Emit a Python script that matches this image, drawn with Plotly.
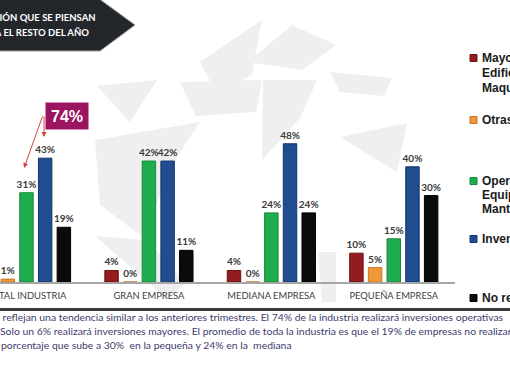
import plotly.graph_objects as go

# ---------------- data ----------------
categories = ["TOTAL INDUSTRIA", "GRAN EMPRESA", "MEDIANA EMPRESA", "PEQUEÑA EMPRESA"]
series_names = ["Mayores", "Otras", "Operativas", "Inventarios", "No realizará"]
mayores = [6, 4, 4, 10]
otras = [1, 0, 0, 5]
operativas = [31, 42, 24, 15]
inventarios = [43, 42, 48, 40]
no_realizara = [19, 11, 24, 30]
series_values = [mayores, otras, operativas, inventarios, no_realizara]
series_colors = ["#921c1f", "#f0993a", "#1fae4e", "#1f4d8f", "#0b0b0b"]
series_lines = ["#6e1012", "#c9772a", "#17873b", "#13366a", "#000000"]

legend_texts = [
    ["Mayores:", "Edificios y", "Maquinaria"],
    ["Otras"],
    ["Operativas:", "Equipos y", "Mantenimiento"],
    ["Inventarios"],
    ["No realizará"],
]
header_lines = ["INVERSIÓN QUE SE PIENSAN", "REALIZAR PARA EL RESTO DEL AÑO"]
highlight_text = "74%"
body_lines = [
    "Los resultados reflejan una tendencia similar a los anteriores trimestres. El 74% de la industria realizará inversiones operativas",
    "Solo un 6% realizará inversiones mayores. El promedio de toda la industria es que el 19% de empresas no realizará inversiones,",
    "porcentaje que sube a 30%  en la pequeña y 24% en la  mediana",
]

W, H = 510, 382


def px(x):
    return x / W


def py(y):
    return 1 - y / H


FONT = "Lato, Liberation Sans, Arial, sans-serif"
SANS = "Liberation Sans, Arial, sans-serif"

fig = go.Figure()
for name, vals, col, lc in zip(series_names, series_values, series_colors, series_lines):
    fig.add_trace(go.Bar(
        x=categories, y=vals, name=name,
        marker=dict(color=col, line=dict(color=lc, width=1)),
        text=[f"{v}%" for v in vals], textposition="outside", constraintext="none",
        textfont=dict(family=FONT, size=10, color="#3a3a3a", weight="bold"),
        cliponaxis=False, showlegend=False, hoverinfo="skip",
    ))

shapes = []
# light watermark blades
blades = [
    [(97, 86), (157, 80), (130, 122)],
    [(180, 82), (262, 80), (256, 112), (196, 116)],
    [(200, 62), (262, 20), (252, 74), (218, 96)],
    [(248, 62), (292, 25), (336, 45), (302, 70)],
    [(330, 72), (392, 78), (384, 96), (340, 92)],
    [(340, 137), (407, 123), (397, 172)],
    [(95, 140), (200, 122), (175, 160), (143, 237), (100, 205)],
    [(263, 80), (317, 80), (300, 118), (262, 160)],
    [(95, 236), (146, 240), (186, 282), (168, 300)],
    [(318, 252), (336, 252), (336, 302), (322, 302)],
]
for b in blades:
    path = "M " + " L ".join(f"{px(x):.4f},{py(y):.4f}" for x, y in b) + " Z"
    shapes.append(dict(type="path", xref="paper", yref="paper", path=path,
                       fillcolor="#efefef", line=dict(width=0), layer="below"))

# header arrow box
hdr = [(-2, -2), (98, -2), (135, 25), (100, 51), (-2, 51)]
shapes.append(dict(type="path", xref="paper", yref="paper",
                   path="M " + " L ".join(f"{px(x):.4f},{py(y):.4f}" for x, y in hdr) + " Z",
                   fillcolor="#23272c", line=dict(color="#9a9a9a", width=1)))
# bottom separator
shapes.append(dict(type="line", xref="paper", yref="paper", x0=0, x1=1,
                   y0=py(309.5), y1=py(309.5), line=dict(color="#3a3a3a", width=3)))

annotations = []
annotations.append(dict(x=px(98), y=py(18), xref="paper", yref="paper", xanchor="right",
                        yanchor="middle", showarrow=False, text=header_lines[0],
                        font=dict(family=FONT, size=9.5, color="white", weight="bold")))
annotations.append(dict(x=px(91), y=py(33), xref="paper", yref="paper", xanchor="right",
                        yanchor="middle", showarrow=False, text=header_lines[1],
                        font=dict(family=FONT, size=9.5, color="white", weight="bold")))

# legend (custom)
leg_rows = [[58, 73, 88], [120], [181, 195, 209], [239], [298]]
for lines, rows, col, lc in zip(legend_texts, leg_rows, series_colors, series_lines):
    shapes.append(dict(type="rect", xref="paper", yref="paper",
                       x0=px(470), x1=px(477), y0=py(rows[0] + 3.5), y1=py(rows[0] - 3.5),
                       fillcolor=col, line=dict(color=lc, width=1)))
    for t, yy in zip(lines, rows):
        annotations.append(dict(x=px(479.5), y=py(yy), xref="paper", yref="paper",
                                xanchor="left", yanchor="middle", showarrow=False, text=t,
                                font=dict(family=SANS, size=12, color="#1a1a1a", weight="bold")))

# highlight box and arrows
annotations.append(dict(x=px(45), y=py(102), xref="paper", yref="paper", showarrow=False,
                        text=f"<b>{highlight_text}</b>", bgcolor="#9c1560",
                        width=38, height=22, borderpad=2,
                        font=dict(family=SANS, size=16, color="white")))
annotations.append(dict(x=px(24), y=py(168), xref="paper", yref="paper", text="",
                        showarrow=True, ax=19, ay=-53, arrowhead=2, arrowsize=1,
                        arrowwidth=1, arrowcolor="#d2453f"))
annotations.append(dict(x=px(44), y=py(137), xref="paper", yref="paper", text="",
                        showarrow=True, ax=0, ay=-22, arrowhead=2, arrowsize=1,
                        arrowwidth=1, arrowcolor="#d2453f"))

# body text
body_x = [-67, -2, -1]
body_y = [317, 331, 345]
for t, bx, by in zip(body_lines, body_x, body_y):
    annotations.append(dict(x=px(bx), y=py(by), xref="paper", yref="paper", xanchor="left",
                            yanchor="middle", showarrow=False, text=t,
                            font=dict(family=FONT, size=10.4, color="#3e3b6e")))

fig.update_layout(
    width=W, height=H, margin=dict(l=0, r=0, t=0, b=0),
    paper_bgcolor="white", plot_bgcolor="rgba(0,0,0,0)",
    barmode="group", bargap=0.237, bargroupgap=0.28,
    shapes=shapes, annotations=annotations, showlegend=False,
    xaxis=dict(domain=[0, px(455)], range=[-26.5 / 122.5, 3.5], showline=True,
               linecolor="#a6a6a6", linewidth=2, ticks="", showgrid=False,
               automargin=False, ticklabelstandoff=4,
               tickfont=dict(family=FONT, size=9.4, color="#404040")),
    yaxis=dict(domain=[py(282), py(109.2)], range=[0, 60], visible=False,
               showgrid=False, zeroline=False, automargin=False),
)

fig.write_html("out.html", config={"displayModeBar": False},
               post_script="document.body.style.margin='0';document.body.style.overflow='hidden';")
